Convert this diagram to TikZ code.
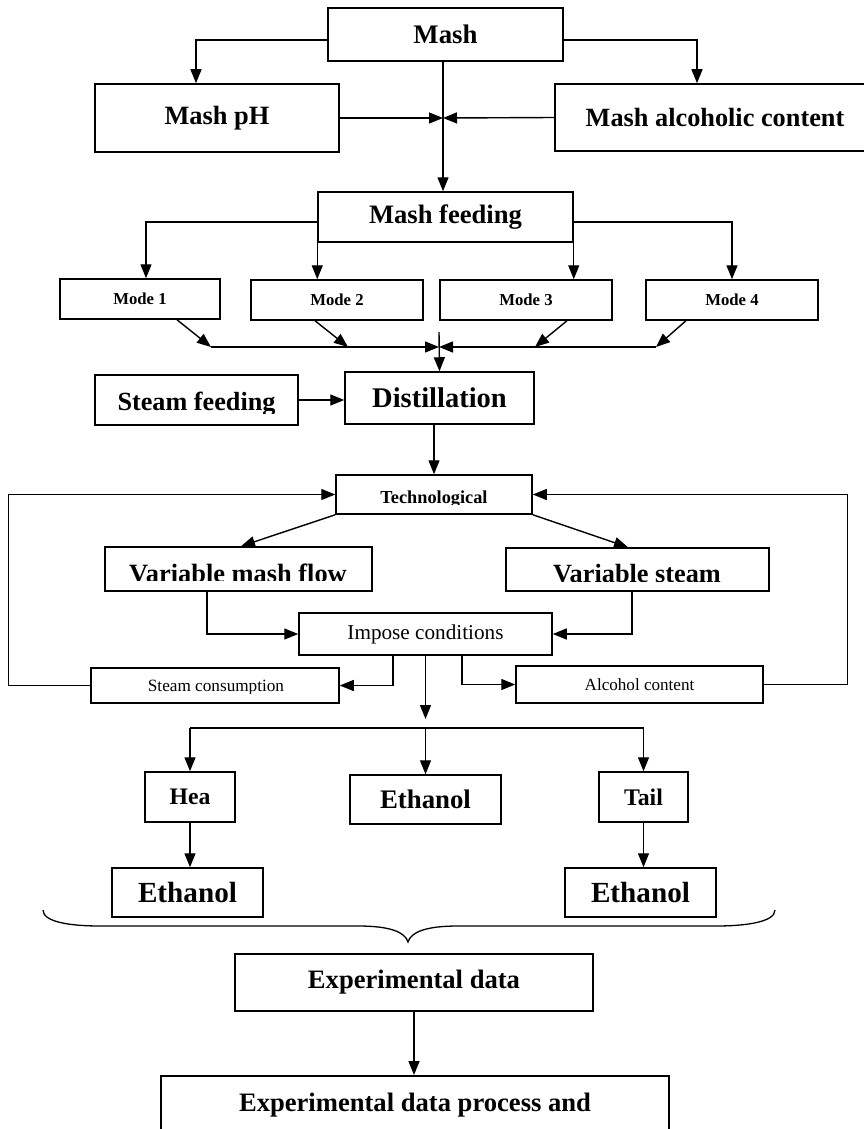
\documentclass[tikz,border=0pt]{standalone}
\usepackage{fontspec}
\setmainfont{Liberation Serif}
\usetikzlibrary{arrows.meta,calc}
\newcommand\fsz[1]{\fontsize{#1pt}{#1pt}\selectfont}
\begin{document}
\begin{tikzpicture}[x=1pt,y=-1pt,
  box/.style={draw, line width=1.5pt, inner sep=0pt, align=center},
  arr/.style={line width=1.4pt, -{Triangle[length=14pt,width=11pt]}},
  ln/.style={line width=1.4pt},
  bt/.style={font=\bfseries\fsz{#1}},
  rt/.style={font=\fsz{#1}},
  ctext/.style={anchor=base, inner sep=0pt},
]
\path[use as bounding box, fill=white] (0,0) rectangle (864,1129);

% top level
\node[box, bt=26.8, minimum width=235pt, minimum height=53pt] (mash) at (445.5,34.5) {Mash};
\node[box, bt=26.4, minimum width=244pt, minimum height=68pt] (mashph) at (217,118) {Mash pH};
\node[box, bt=26.3, minimum width=320pt, minimum height=67pt] (mashalc) at (715,117.5) {Mash alcoholic content};
\coordinate (c1) at (443,118);
\node[box, bt=26.6, minimum width=255pt, minimum height=50pt] (feed) at (445.5,217) {Mash feeding};

% modes
\node[box, bt=16.7, minimum width=160pt, minimum height=40pt] (m1) at (140,299) {Mode 1};
\node[box, bt=16.7, minimum width=172pt, minimum height=40pt] (m2) at (337,300) {Mode 2};
\node[box, bt=16.7, minimum width=172pt, minimum height=40pt] (m3) at (526,300) {Mode 3};
\node[box, bt=16.7, minimum width=172pt, minimum height=40pt] (m4) at (732,300) {Mode 4};
\coordinate (h1) at (211,347);
\coordinate (h2) at (348,347);
\coordinate (h3) at (535,347);
\coordinate (h4) at (656,347);
\coordinate (jn) at (439,347);
\coordinate (jt) at (439,332);

% distillation
\node[box, bt=28.5, minimum width=189pt, minimum height=52pt] (dist) at (439.5,398) {Distillation};
\node[box, minimum width=203pt, minimum height=50pt] (steam) at (196.5,400) {};
\begin{scope}
  \clip (95,375) rectangle (298,413);
  \node[bt=26.2, ctext] (steamtxt) at (196.5,410) {Steam feeding};
\end{scope}

% technological
\node[box, minimum width=196pt, minimum height=39pt] (tech) at (434,494.5) {};
\begin{scope}
  \clip (336,475) rectangle (532,504.5);
  \node[bt=18.3, ctext] (techtxt) at (434,503) {Technological};
\end{scope}
\node[box, minimum width=267pt, minimum height=44pt] (varmash) at (238.5,569) {};
\begin{scope}
  \clip (105,547) rectangle (372,580.5);
  \node[bt=26.4, ctext] (vmtxt) at (238,582.5) {Variable mash flow};
\end{scope}
\node[box, minimum width=263pt, minimum height=43pt] (varsteam) at (637.5,569.5) {};
\begin{scope}
  \clip (506,548) rectangle (769,581);
  \node[bt=26.3, ctext] (vstxt) at (637,582.5) {Variable steam};
\end{scope}
\node[box, rt=21.2, minimum width=253pt, minimum height=42pt] (impose) at (425.5,634) {Impose conditions};
\node[box, minimum width=248pt, minimum height=35pt] (steamcons) at (215,685.5) {};
\begin{scope}
  \clip (91,668) rectangle (339,693);
  \node[rt=17.2, ctext] (sctxt) at (216,691.5) {Steam consumption};
\end{scope}
\node[box, rt=17.1, minimum width=247pt, minimum height=37pt] (alc) at (639.5,684.5) {Alcohol content};

% products
\coordinate (s0) at (425.5,728);
\coordinate (sL) at (190,728);
\coordinate (sR) at (643.5,728);
\node[box, bt=23.7, minimum width=90pt, minimum height=50pt] (hea) at (190,797) {Hea};
\node[box, bt=26.8, minimum width=151pt, minimum height=49pt] (ethm) at (425.5,799.5) {Ethanol};
\node[box, bt=23.8, minimum width=89pt, minimum height=50pt] (tail) at (643.5,797) {Tail};
\node[box, bt=29.2, minimum width=151pt, minimum height=49pt] (ethL) at (187.5,892.5) {Ethanol};
\node[box, bt=29.2, minimum width=151pt, minimum height=49pt] (ethR) at (640.5,892.5) {Ethanol};

% data
\node[box, bt=26.6, minimum width=358pt, minimum height=57pt] (exp) at (414,982.5) {Experimental data};
\node[box, bt=26.6, anchor=north, minimum width=508pt, inner ysep=18pt, text height=18pt, text depth=6pt] (last) at (415,1075) {Experimental data process and};

% connectors
\draw[arr] ($(mash.west)+(0,5.5)$) -| ($(mashph.north)+(-21,0)$);
\draw[arr] ($(mash.east)+(0,5.5)$) -| ($(mashalc.north)+(-18,0)$);
\draw[arr] (mashph.east) -- (c1);
\draw[arr] (mashalc.west) -- (c1);
\draw[arr] (mash.south -| c1) -- (feed.north -| c1);

\draw[arr] ($(feed.west)+(0,5)$) -| ($(m1.north)+(6,0)$);
\draw[arr] (feed.south west) -- (feed.south west |- m2.north);
\draw[arr] (feed.south east) -- (feed.south east |- m3.north);
\draw[arr] ($(feed.east)+(0,5)$) -| (m4.north);
\draw[arr] ($(m1.south)+(37,0)$) -- (h1);
\draw[arr] ($(m2.south)+(-22,0)$) -- (h2);
\draw[arr] ($(m3.south)+(41,0)$) -- (h3);
\draw[arr] ($(m4.south)+(-46,0)$) -- (h4);
\draw[arr] (h1) -- (jn);
\draw[arr] (h4) -- (jn);
\draw[arr] (jt) -- (dist.north);
\draw[arr] (steam.east) -- (dist.west |- steam.east);

\draw[arr] (dist.south -| tech.north) -- (tech.north);
\draw[arr] (steamcons.west) -- ++(-82,0) |- (tech.west);
\draw[arr] (alc.east) -- ++(84,0) |- (tech.east);
\draw[arr] (tech.south west) -- ($(varmash.north)+(2.5,0)$);
\draw[arr] (tech.south east) -- ($(varsteam.north)+(-9.5,0)$);
\draw[arr] ($(varmash.south)+(-31.5,0)$) |- (impose.west);
\draw[arr] ($(varsteam.south)+(-5.5,0)$) |- (impose.east);
\draw[arr] ($(impose.south)+(-32.5,0)$) |- (steamcons.east);
\draw[arr] ($(impose.south)+(36.5,0)$) |- (alc.west);
\draw[arr] (impose.south) -- ($(s0)+(0,-9)$);

\draw[ln] (sL) -- (sR);
\draw[arr] (sL) -- (hea.north);
\draw[arr] (s0) -- (ethm.north);
\draw[arr] (sR) -- (tail.north);
\draw[arr] (hea.south) -- (hea.south |- ethL.north);
\draw[arr] (tail.south) -- (tail.south |- ethR.north);

% brace
\draw[line width=1.3pt] (43,910) .. controls (43,922) and (70,926) .. (100,926) -- (358,926)
  .. controls (390,926) and (405,932) .. (408,942)
  .. controls (411,932) and (426,926) .. (458,926) -- (716,926)
  .. controls (746,926) and (775,922) .. (775,910);

\draw[arr] (exp.south) -- (exp.south |- last.north);
\end{tikzpicture}
\end{document}
